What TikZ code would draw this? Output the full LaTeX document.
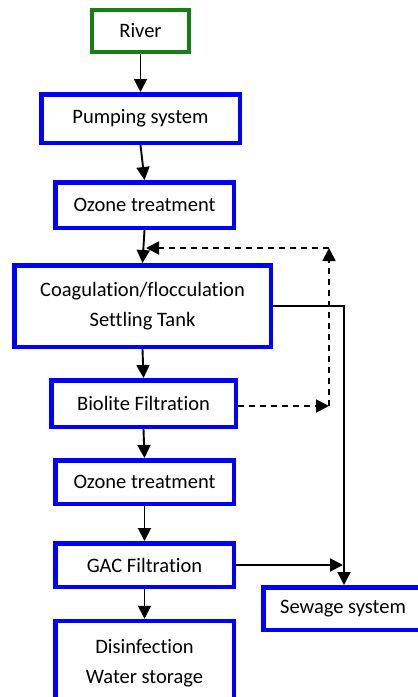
\documentclass[tikz,border=0pt]{standalone}
\usepackage{fontspec}
\setmainfont[Ligatures=NoCommon,RawFeature={-liga;-clig;-calt;-dlig}]{Carlito}
\usetikzlibrary{arrows.meta}
\definecolor{boxblue}{RGB}{0,0,255}
\definecolor{boxgreen}{RGB}{20,128,20}
\tikzset{
  stage/.style={draw=boxblue, line width=4.5pt, fill=white, align=center,
    inner sep=0pt, font=\fontsize{20.5}{30}\selectfont},
  source/.style={stage, draw=boxgreen, line width=4pt},
  flow/.style={line width=1.9pt, -{Triangle[length=13pt,width=13pt]}},
  recycle/.style={flow, dash pattern=on 6pt off 5pt},
}
\begin{document}
\begin{tikzpicture}[x=1pt,y=-1pt]
\clip (0,0) rectangle (418,697);
\fill[white] (0,0) rectangle (418,697);

% treatment train
\node[source, minimum width=97pt,  minimum height=42pt]   (river)   at (140.5,31)  {River};
\node[stage,  minimum width=198.5pt, minimum height=48.5pt] (pump)  at (140.5,118.5) {Pumping system};
\node[stage,  minimum width=178.5pt, minimum height=45.5pt] (ozone1) at (144.5,205) {Ozone treatment};
\node[stage,  minimum width=256.5pt, minimum height=81.5pt] (coag)  at (142.5,306) {Coagulation/flocculation\\Settling Tank};
\node[stage,  minimum width=184.5pt, minimum height=46.5pt] (bio)   at (143.5,403.5) {Biolite Filtration};
\node[stage,  minimum width=178.5pt, minimum height=43.5pt] (ozone2) at (144.5,482) {Ozone treatment};
\node[stage,  minimum width=178.5pt, minimum height=43.5pt] (gac)   at (144.5,565) {GAC Filtration};
\node[stage,  minimum width=178.5pt, minimum height=84pt]   (dis)   at (144.5,663) {Disinfection\\Water storage};
\node[stage,  minimum width=159.5pt, minimum height=42.5pt] (sew)   at (343,608.5) {Sewage system};

% main flow
\draw[flow] (river.south) -- (pump.north);
\draw[flow] (pump.south) -- (ozone1.north);
\draw[flow] (ozone1.south) -- (coag.north);
\draw[flow] (coag.south) -- (bio.north);
\draw[flow] (bio.south) -- (ozone2.north);
\draw[flow] (ozone2.south) -- (gac.north);
\draw[flow] (gac.south) -- (dis.north);

% backwash water recycled to the head of the settling tank
\coordinate (r1) at (329,406);
\coordinate (r2) at (329,248);
\coordinate (r3) at (146,248);
\draw[recycle] (bio.east |- r1) -- (r1);
\draw[recycle] (r1) -- (r2);
\draw[recycle] (r2) -- (r3);

% sludge and spent water to sewage
\coordinate (s1) at (344,306);
\coordinate (s2) at (343,565);
\draw[flow] (coag.east |- s1) -- (s1) -- (s1 |- sew.north);
\draw[flow] (gac.east) -- (s2);
\end{tikzpicture}
\end{document}
